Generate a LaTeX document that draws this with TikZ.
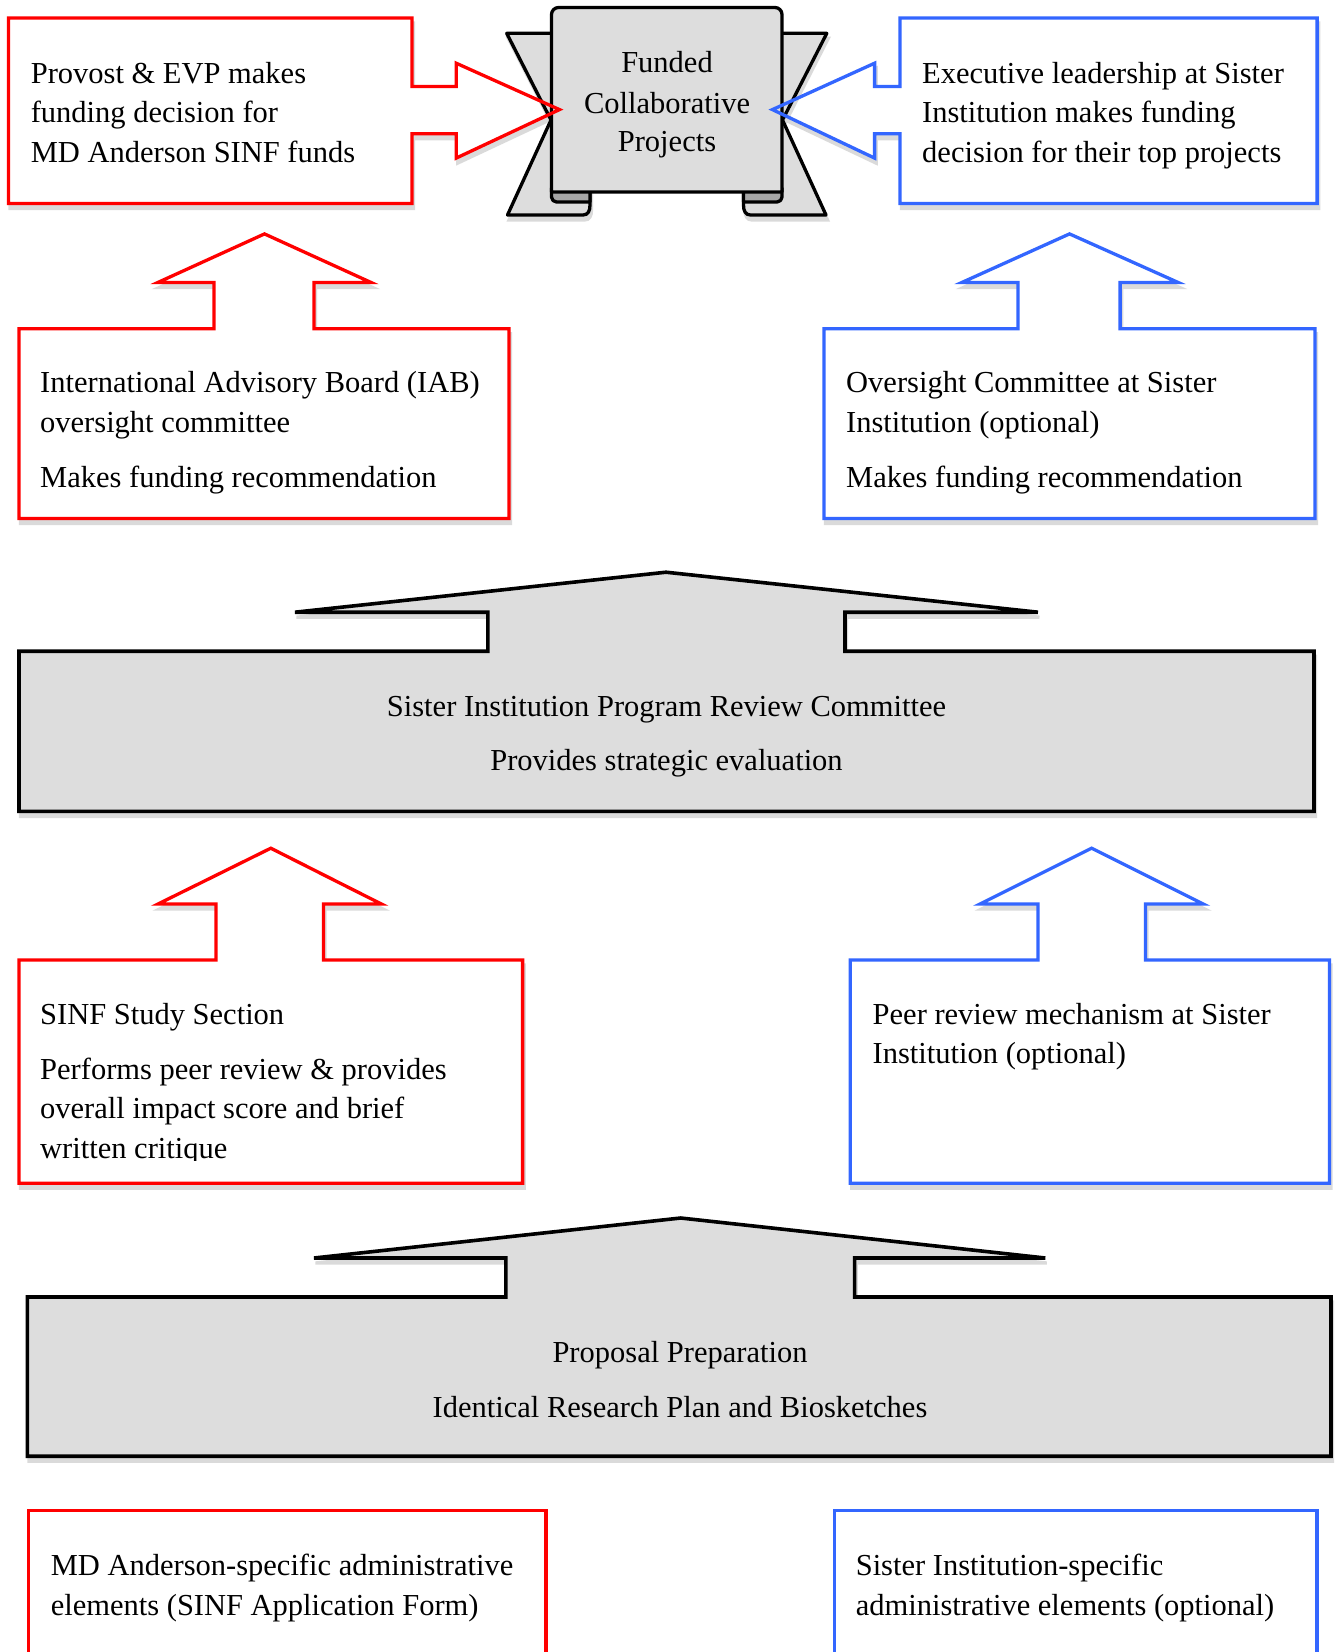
\documentclass[tikz,border=0pt]{standalone}
\usepackage{fontspec}
\setmainfont{Liberation Serif}
\definecolor{myred}{RGB}{255,0,0}
\definecolor{myblue}{RGB}{51,102,255}
\definecolor{boxgray}{RGB}{221,221,221}
\definecolor{rollgray}{RGB}{166,166,166}
\definecolor{shadowgray}{RGB}{218,218,218}
\tikzset{
  dropshade/.style={preaction={draw=shadowgray, fill=shadowgray, line width=3.3pt,
      transform canvas={shift={(1.5pt,-5pt)}}}},
  redline/.style={draw=myred, line width=3.3pt, line join=miter},
  blueline/.style={draw=myblue, line width=3.3pt, line join=miter},
  blackline/.style={draw=black, line width=3.6pt, line join=miter, fill=boxgray},
  scrollline/.style={draw=black, line width=3.3pt, line join=round, fill=boxgray},
  lbl/.style={font=\fontsize{30.5}{40}\selectfont, inner sep=0pt, anchor=base west},
  clbl/.style={font=\fontsize{30.5}{40}\selectfont, inner sep=0pt, anchor=base},
}
\begin{document}
\begin{tikzpicture}[x=1pt,y=-1pt]
\useasboundingbox (0,0) rectangle (1334,1652);
\clip (0,0) rectangle (1334,1652);

% ---------- Row 1: callout fills (behind the scroll)
\path[dropshade, fill=white] (8.4,17.9) -- (412,17.9) -- (412,86.4) -- (456.2,86.4) -- (456.2,63.2) -- (559.5,109.6) -- (456.2,158.1) -- (456.2,133.8) -- (412,133.8) -- (412,203.4) -- (8.4,203.4) -- cycle;
\path[dropshade, fill=white] (1317.1,17.9) -- (899.9,17.9) -- (899.9,86.4) -- (874.6,86.4) -- (874.6,63.2) -- (772.4,109.6) -- (874.6,158.1) -- (874.6,133.8) -- (899.9,133.8) -- (899.9,203.4) -- (1317.1,203.4) -- cycle;

% ---------- Scroll
% left tail
\path[scrollline, dropshade] (506.7,33.3) -- (551,120) -- (507.5,215) -- (583,215) .. controls (588,215) and (590,211) .. (590,205) -- (590,190) -- (553,190) -- (553,33.3) -- cycle;
% right tail
\path[scrollline, dropshade] (826.8,33.3) -- (782.5,120) -- (826,215) -- (750.5,215) .. controls (745.5,215) and (743.5,211) .. (743.5,205) -- (743.5,190) -- (780.5,190) -- (780.5,33.3) -- cycle;
% dark fold bands
\path[scrollline, fill=rollgray] (551.5,188) [rounded corners=5] -- (551.5,202) [sharp corners] -- (590,202) -- (590,188) -- cycle;
\path[scrollline, fill=rollgray] (782,188) [rounded corners=5] -- (782,202) [sharp corners] -- (743.5,202) -- (743.5,188) -- cycle;
% body
\path[scrollline] (551.5,192) [rounded corners=7] -- (551.5,7.5) -- (782,7.5) [sharp corners] -- (782,192) -- cycle;
\node[clbl] (s1) at (667,72.7) {Funded};
\node[clbl] (s2) at (667,113.3) {Collaborative};
\node[clbl] (s3) at (667,151.7) {Projects};

% ---------- Row 1: callout outlines
\path[redline] (8.4,17.9) -- (412,17.9) -- (412,86.4) -- (456.2,86.4) -- (456.2,63.2) -- (559.5,109.6) -- (456.2,158.1) -- (456.2,133.8) -- (412,133.8) -- (412,203.4) -- (8.4,203.4) -- cycle;
\path[blueline] (1317.1,17.9) -- (899.9,17.9) -- (899.9,86.4) -- (874.6,86.4) -- (874.6,63.2) -- (772.4,109.6) -- (874.6,158.1) -- (874.6,133.8) -- (899.9,133.8) -- (899.9,203.4) -- (1317.1,203.4) -- cycle;
\node[lbl] (a1) at (30.6,83) {Provost \& EVP makes};
\node[lbl] (a2) at (30.6,122.5) {funding decision for};
\node[lbl] (a3) at (30.6,162) {MD Anderson SINF funds};
\node[lbl] (b1) at (922,83) {Executive leadership at Sister};
\node[lbl] (b2) at (922,122.5) {Institution makes funding};
\node[lbl] (b3) at (922,162) {decision for their top projects};

% ---------- Row 2
\path[redline, fill=white, dropshade] (19,518.4) -- (19,328.7) -- (213.9,328.7) -- (213.9,282.4) -- (158,282.4) -- (264.5,233.9) -- (370.9,282.4) -- (314,282.4) -- (314,328.7) -- (509,328.7) -- (509,518.4) -- cycle;
\path[blueline, fill=white, dropshade] (824,518.4) -- (824,328.7) -- (1017.9,328.7) -- (1017.9,282.4) -- (962,282.4) -- (1069.5,233.9) -- (1178,282.4) -- (1120.1,282.4) -- (1120.1,328.7) -- (1315,328.7) -- (1315,518.4) -- cycle;
\node[lbl] (c1) at (40,392.5) {International Advisory Board (IAB)};
\node[lbl] (c2) at (40,432.6) {oversight committee};
\node[lbl] (c3) at (40,487.4) {Makes funding recommendation};
\node[lbl] (d1) at (846,392.5) {Oversight Committee at Sister};
\node[lbl] (d2) at (846,432.6) {Institution (optional)};
\node[lbl] (d3) at (846,487.4) {Makes funding recommendation};

% ---------- Row 3
\path[blackline, dropshade] (19,811.4) -- (19,651.2) -- (487.9,651.2) -- (487.9,612.2) -- (295,612.2) -- (666,572.2) -- (1037.9,612.2) -- (845,612.2) -- (845,651.2) -- (1314,651.2) -- (1314,811.4) -- cycle;
\node[clbl] (e1) at (666.5,716) {Sister Institution Program Review Committee};
\node[clbl] (e2) at (666.5,770.8) {Provides strategic evaluation};

% ---------- Row 4
\path[redline, fill=white, dropshade] (19,1183.3) -- (19,960) -- (216,960) -- (216,904) -- (158,904) -- (270.8,848.2) -- (381.4,904) -- (323.5,904) -- (323.5,960) -- (522.6,960) -- (522.6,1183.3) -- cycle;
\path[blueline, fill=white, dropshade] (850.3,1183.3) -- (850.3,960) -- (1037.9,960) -- (1037.9,904) -- (980,904) -- (1091.6,848.2) -- (1203.3,904) -- (1145.4,904) -- (1145.4,960) -- (1329.5,960) -- (1329.5,1183.3) -- cycle;
\node[lbl] (f1) at (40,1024.5) {SINF Study Section};
\node[lbl] (f2) at (40,1079) {Performs peer review \& provides};
\node[lbl] (f3) at (40,1118.5) {overall impact score and brief};
\begin{scope}
  \clip (0,0) rectangle (1334,1160.5);
  \node[lbl] (f4) at (40,1158.5) {written critique};
\end{scope}
\node[lbl] (g1) at (872.5,1024.5) {Peer review mechanism at Sister};
\node[lbl] (g2) at (872.5,1063.8) {Institution (optional)};

% ---------- Row 5
\path[blackline, dropshade] (27.4,1456.2) -- (27.4,1297) -- (505.8,1297) -- (505.8,1258) -- (314,1258) -- (680.7,1218) -- (1045.3,1258) -- (854.6,1258) -- (854.6,1297) -- (1331,1297) -- (1331,1456.2) -- cycle;
\node[clbl] (h1) at (680,1362) {Proposal Preparation};
\node[clbl] (h2) at (680,1417.8) {Identical Research Plan and Biosketches};

% ---------- Row 6
\path[redline, fill=white] (28.7,1720) -- (28.7,1510.7) -- (546,1510.7) -- (546,1720);
\path[blueline, fill=white] (834.5,1720) -- (834.5,1510.7) -- (1317,1510.7) -- (1317,1720);
\node[lbl] (i1) at (50.6,1575.5) {MD Anderson-specific administrative};
\node[lbl] (i2) at (50.6,1615.5) {elements (SINF Application Form)};
\node[lbl] (j1) at (855.6,1575.5) {Sister Institution-specific};
\node[lbl] (j2) at (855.6,1615.5) {administrative elements (optional)};
\end{tikzpicture}
\end{document}
